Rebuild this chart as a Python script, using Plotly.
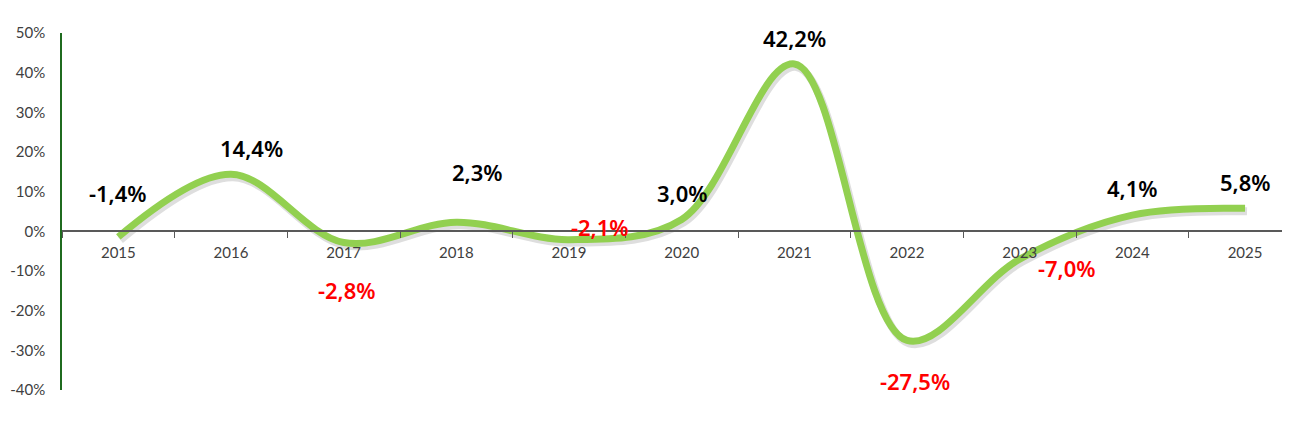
import plotly.graph_objects as go

years = ["2015", "2016", "2017", "2018", "2019", "2020", "2021", "2022", "2023", "2024", "2025"]
values = [-1.4, 14.4, -2.8, 2.3, -2.1, 3.0, 42.2, -27.5, -7.0, 4.1, 5.8]
labels = ["-1,4%", "14,4%", "-2,8%", "2,3%", "-2,1%", "3,0%", "42,2%", "-27,5%", "-7,0%", "4,1%", "5,8%"]
label_colors = ["#000000", "#000000", "#FF0000", "#000000", "#FF0000", "#000000",
                "#000000", "#FF0000", "#FF0000", "#000000", "#000000"]
label_dx = [0, 20, 3, 21, 31, 1, 0, 8, 47, 0, 0]
label_dy = [44, 26, -48, 50, 13, 26, 26, -41, -9, 27, 26]
ytick_vals = [-40, -30, -20, -10, 0, 10, 20, 30, 40, 50]
ytick_text = ["-40%", "-30%", "-20%", "-10%", "0%", "10%", "20%", "30%", "40%", "50%"]

XR = [-0.5, 10.47]
YR = [-40, 50]
PLOT_W = 1236.0
PLOT_H = 357.0

fig = go.Figure()
# invisible carrier trace so the visible axes are drawn
fig.add_trace(go.Scatter(
    x=years, y=values, mode="lines", xaxis="x", yaxis="y",
    line=dict(color="rgba(0,0,0,0)", width=0), hoverinfo="skip", showlegend=False))
# soft shadow (offset down-right via shifted overlay axes)
fig.add_trace(go.Scatter(
    x=years, y=values, mode="lines", xaxis="x2", yaxis="y2",
    line=dict(color="rgba(0,0,0,0.13)", width=8, shape="spline", smoothing=1.0),
    hoverinfo="skip", showlegend=False))
fig.add_trace(go.Scatter(
    x=years, y=values, mode="lines", xaxis="x3", yaxis="y",
    line=dict(color="#92D050", width=7, shape="spline", smoothing=1.0),
    showlegend=False))

for i, (v, t, c, dx, dy) in enumerate(zip(values, labels, label_colors, label_dx, label_dy)):
    fig.add_annotation(
        x=i, y=v, xref="x3", yref="y", text=t, showarrow=False, xshift=dx, yshift=dy,
        font=dict(family="Noto Sans", size=22, weight=600, color=c),
    )

px_x = (XR[1] - XR[0]) / PLOT_W
px_y = (YR[1] - YR[0]) / PLOT_H
fig.update_layout(
    width=1290, height=436,
    margin=dict(l=54, r=0, t=25, b=54),
    paper_bgcolor="white", plot_bgcolor="white",
    font=dict(family="Lato", color="#404040"),
    xaxis=dict(
        type="category", range=XR, anchor="free", position=40 / 90,
        showline=True, linecolor="#595959", linewidth=1.5,
        ticks="outside", tickson="boundaries", ticklen=6, tickcolor="#595959",
        ticklabelstandoff=8,
        tickfont=dict(size=15, color="#404040"), showgrid=False, zeroline=False,
        automargin=False, categoryorder="array", categoryarray=years,
    ),
    xaxis2=dict(type="category", range=[XR[0] - 2 * px_x, XR[1] - 2 * px_x],
                overlaying="x", visible=False, categoryorder="array", categoryarray=years),
    xaxis3=dict(type="category", range=XR, overlaying="x", visible=False,
                categoryorder="array", categoryarray=years),
    yaxis=dict(
        range=YR, tickvals=ytick_vals, ticktext=ytick_text, showgrid=False, zeroline=False,
        showline=True, linecolor="#1F6B1F", linewidth=1.5, ticks="",
        ticklabelstandoff=12,
        tickfont=dict(size=15, color="#404040"), automargin=False,
    ),
    yaxis2=dict(range=[YR[0] + 3 * px_y, YR[1] + 3 * px_y], overlaying="y", visible=False),
)

fig.write_html("out.html")
